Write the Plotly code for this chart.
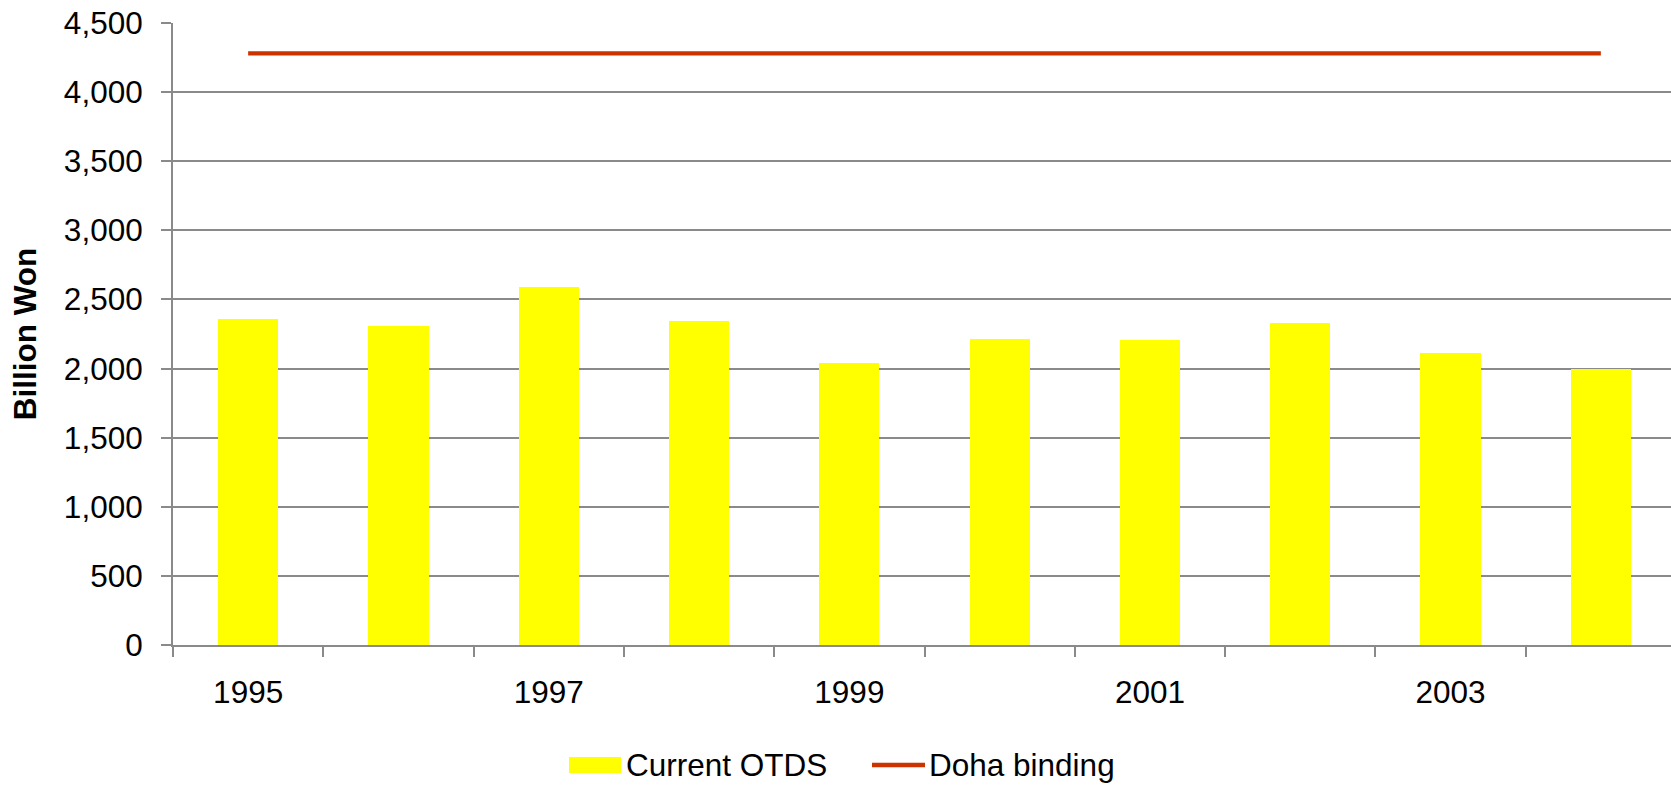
import plotly.graph_objects as go

years = [1995, 1996, 1997, 1998, 1999, 2000, 2001, 2002, 2003, 2004]
current_otds = [2357, 2310, 2592, 2347, 2039, 2217, 2205, 2332, 2116, 2000]
doha_binding = [4280, 4280, 4280, 4280, 4280, 4280, 4280, 4280, 4280, 4280]
label_years = [1995, 1997, 1999, 2001, 2003]
boundaries = [1994.5, 1995.5, 1996.5, 1997.5, 1998.5, 1999.5, 2000.5, 2001.5, 2002.5, 2003.5]
y_ticks = [0, 500, 1000, 1500, 2000, 2500, 3000, 3500, 4000, 4500]

FONT = "Liberation Sans, Arial, sans-serif"
FS = 31.5
GRID = "#8a8a8a"
YELLOW = "#FFFF00"
RED = "#CC3300"

W, H = 1671, 785
L, R, T, B = 173, 0, 23, 140
PW, PH = W - L - R, H - T - B

def px(x):
    return (x - L) / PW

def py(y):
    return (H - B - y) / PH

fig = go.Figure()
fig.add_trace(go.Bar(x=years, y=current_otds, width=0.4, marker=dict(color=YELLOW, line=dict(width=0)),
                     name="Current OTDS", showlegend=False))
fig.add_trace(go.Scatter(x=years, y=doha_binding, mode="lines", line=dict(color=RED, width=4.3),
                         name="Doha binding", showlegend=False))

# custom legend
fig.add_shape(type="rect", xref="paper", yref="paper", x0=px(569), x1=px(621), y0=py(773), y1=py(757),
              fillcolor=YELLOW, line=dict(width=0))
fig.add_annotation(xref="paper", yref="paper", x=px(624), y=py(765), text="Current OTDS", showarrow=False,
                   xanchor="left", yanchor="middle", font=dict(family=FONT, size=FS, color="black"))
fig.add_shape(type="line", xref="paper", yref="paper", x0=px(872), x1=px(925), y0=py(765), y1=py(765),
              line=dict(color=RED, width=4.3))
fig.add_annotation(xref="paper", yref="paper", x=px(927), y=py(765), text="Doha binding", showarrow=False,
                   xanchor="left", yanchor="middle", font=dict(family=FONT, size=FS, color="black"))

fig.update_layout(
    width=W, height=H,
    margin=dict(l=L, r=R, t=T, b=B, pad=0),
    plot_bgcolor="white", paper_bgcolor="white",
    font=dict(family=FONT, size=FS, color="black"),
    showlegend=False,
    bargap=0,
)
fig.update_xaxes(
    range=[1994.5, 1994.5 + PW / 150.3],
    tickmode="array", tickvals=label_years, ticktext=[str(y) for y in label_years],
    ticks="", showgrid=False, zeroline=False,
    showline=True, linecolor=GRID, linewidth=2,
    ticklabelstandoff=18,
    tickfont=dict(family=FONT, size=FS, color="black"),
    minor=dict(tickmode="array", tickvals=boundaries, ticks="outside", ticklen=10, tickcolor=GRID,
               tickwidth=1.5, showgrid=False),
)
fig.update_yaxes(
    range=[0, 4500], tickmode="array", tickvals=y_ticks, tickformat=",d",
    ticks="outside", ticklen=10, tickcolor=GRID, tickwidth=1.5,
    showgrid=True, gridcolor=GRID, gridwidth=1.5, zeroline=False,
    showline=True, linecolor=GRID, linewidth=2,
    ticklabelstandoff=12,
    tickfont=dict(family=FONT, size=FS, color="black"),
    title=dict(text="<b>Billion Won</b>", font=dict(family=FONT, size=FS, color="black"), standoff=18),
)

fig.write_html("out.html", config={"displayModeBar": False})

with open("out.html", "r", encoding="utf-8") as f:
    html = f.read()
html = html.replace("<head>", "<head><style>html,body{margin:0;padding:0;overflow:hidden;}</style>", 1)
with open("out.html", "w", encoding="utf-8") as f:
    f.write(html)
